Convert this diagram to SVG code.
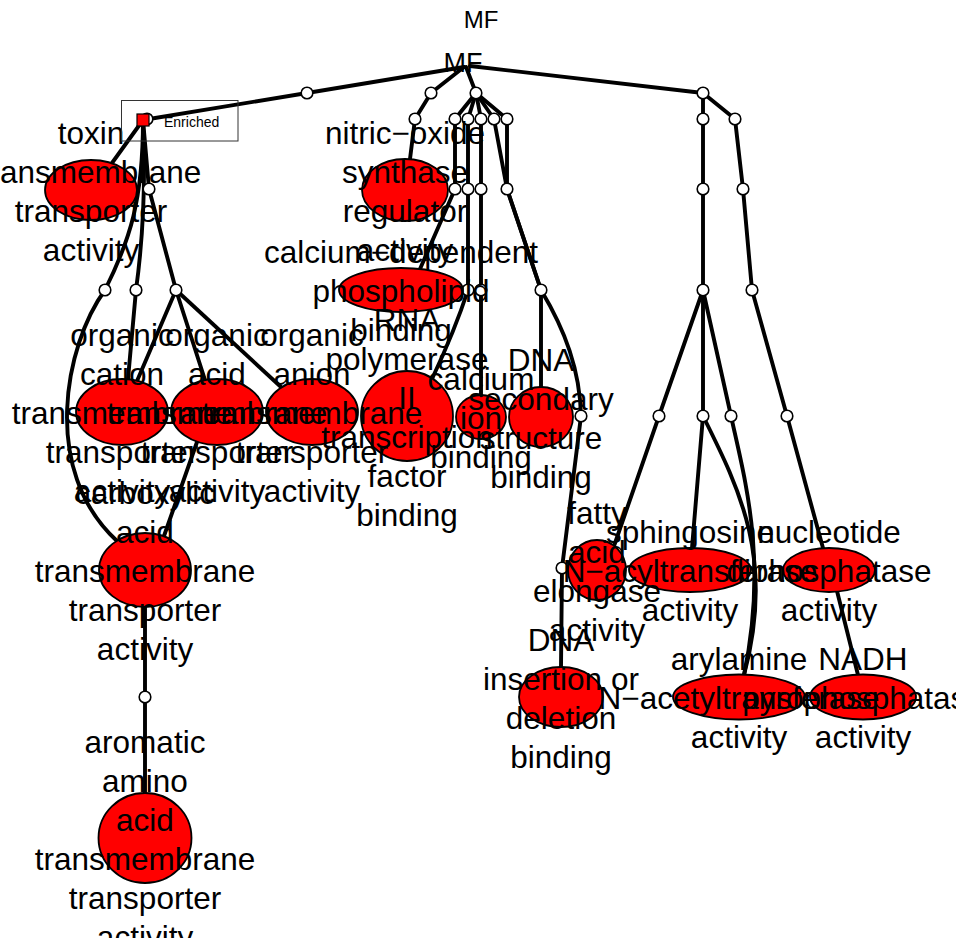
<svg xmlns="http://www.w3.org/2000/svg" width="956" height="938" viewBox="0 0 956 938">
<style>
.e{fill:none;stroke:#000;stroke-width:3.9;stroke-linecap:round;stroke-linejoin:round}
.n{fill:#ff0000;stroke:#000;stroke-width:1.8}
.d{fill:#fff;stroke:#000;stroke-width:1.6}
.t{font-family:"Liberation Sans",Arial,sans-serif;font-size:31.5px;fill:#000;text-anchor:middle}
</style>
<rect width="956" height="938" fill="#fff"/>
<text x="481" y="28" style="font-family:'Liberation Sans',Arial,sans-serif;font-size:24px;text-anchor:middle">MF</text>
<g id="connectors">
<path class="e" d="M464,67 L307,93 L143,120"/>
<path class="e" d="M464,67 L431,93 L415,119 L410,159"/>
<path class="e" d="M466,67 L476,93"/>
<path class="e" d="M470,66 L703,93"/>
<path class="e" d="M476,93 L455,119 L455,189 L420,269"/>
<path class="e" d="M476,93 L468,119 L468,189 L468,290 Q455,330 432,379"/>
<path class="e" d="M476,93 L481,119 L481,189 L481,290 L481,395"/>
<path class="e" d="M476,93 L494,119 L507,189 L541,290 L541,387"/>
<path class="e" d="M476,93 L507,119 L507,189 L541,290 C565,330 580,370 581,416 L562,568 L561,667"/>
<path class="e" d="M143,120 L112,163"/>
<path class="e" d="M143,120 L149,189 L176,290"/>
<path class="e" d="M143,120 Q147,210 136,290 L128,379"/>
<path class="e" d="M143,120 C143,200 130,240 105,290 C65,345 40,470 117,541"/>
<path class="e" d="M176,290 L137,381"/>
<path class="e" d="M176,290 L205,380"/>
<path class="e" d="M176,290 L281,387"/>
<path class="e" d="M197,442 L164,536"/>
<path class="e" d="M145,607 L145,697 L145,793"/>
<path class="e" d="M703,93 L703,119 L703,189 L703,290"/>
<path class="e" d="M703,93 L735,119 L743,189 L752,290 L787,416 L823,548"/>
<path class="e" d="M703,290 L659,416 L614,546"/>
<path class="e" d="M703,290 L703,416 L692,548"/>
<path class="e" d="M703,290 L731,416"/>
<path class="e" d="M703,416 C740,490 775,560 744,675"/>
<path class="e" d="M731,416 C745,480 768,560 744,675"/>
<path class="e" d="M837,591 L858,675"/>
</g>
<g id="dummies">
<circle class="d" cx="307" cy="93" r="5.8"/>
<circle class="d" cx="147" cy="119" r="5.8"/>
<circle class="d" cx="431" cy="93" r="5.8"/>
<circle class="d" cx="476" cy="93" r="5.8"/>
<circle class="d" cx="415" cy="119" r="5.8"/>
<circle class="d" cx="455" cy="119" r="5.8"/>
<circle class="d" cx="468" cy="119" r="5.8"/>
<circle class="d" cx="481" cy="119" r="5.8"/>
<circle class="d" cx="494" cy="119" r="5.8"/>
<circle class="d" cx="507" cy="119" r="5.8"/>
<circle class="d" cx="455" cy="189" r="5.8"/>
<circle class="d" cx="468" cy="189" r="5.8"/>
<circle class="d" cx="481" cy="189" r="5.8"/>
<circle class="d" cx="507" cy="189" r="5.8"/>
<circle class="d" cx="468" cy="290" r="5.8"/>
<circle class="d" cx="481" cy="290" r="5.8"/>
<circle class="d" cx="541" cy="290" r="5.8"/>
<circle class="d" cx="581" cy="416" r="5.8"/>
<circle class="d" cx="562" cy="568" r="5.8"/>
<circle class="d" cx="149" cy="189" r="5.8"/>
<circle class="d" cx="105" cy="290" r="5.8"/>
<circle class="d" cx="136" cy="290" r="5.8"/>
<circle class="d" cx="176" cy="290" r="5.8"/>
<circle class="d" cx="145" cy="697" r="5.8"/>
<circle class="d" cx="703" cy="93" r="5.8"/>
<circle class="d" cx="703" cy="119" r="5.8"/>
<circle class="d" cx="735" cy="119" r="5.8"/>
<circle class="d" cx="703" cy="189" r="5.8"/>
<circle class="d" cx="743" cy="189" r="5.8"/>
<circle class="d" cx="703" cy="290" r="5.8"/>
<circle class="d" cx="752" cy="290" r="5.8"/>
<circle class="d" cx="659" cy="416" r="5.8"/>
<circle class="d" cx="703" cy="416" r="5.8"/>
<circle class="d" cx="731" cy="416" r="5.8"/>
<circle class="d" cx="787" cy="416" r="5.8"/>
</g>
<g id="n_root"><text class="t" x="463" y="72" style="font-size:27px">MF</text></g>
<g id="n_toxin"><ellipse class="n" cx="91" cy="190" rx="46" ry="30"/></g>
<g id="n_nos"><ellipse class="n" cx="405" cy="190" rx="43" ry="31"/></g>
<g id="n_phospholipid"><ellipse class="n" cx="401" cy="290" rx="62" ry="22"/></g>
<g id="n_rnapol"><ellipse class="n" cx="407" cy="416" rx="46" ry="45"/></g>
<g id="n_calcium"><ellipse class="n" cx="481" cy="417" rx="25" ry="22"/></g>
<g id="n_dnasec"><ellipse class="n" cx="541" cy="417" rx="32" ry="30"/></g>
<g id="n_cation"><ellipse class="n" cx="122" cy="412" rx="46" ry="33"/></g>
<g id="n_acid"><ellipse class="n" cx="217" cy="412" rx="46" ry="33"/></g>
<g id="n_anion"><ellipse class="n" cx="312" cy="412" rx="46" ry="33"/></g>
<g id="n_carboxylic"><ellipse class="n" cx="145" cy="570" rx="46" ry="37"/></g>
<g id="n_aromatic"><ellipse class="n" cx="145" cy="838" rx="46.5" ry="45"/></g>
<g id="n_fatty"><ellipse class="n" cx="597" cy="570" rx="29" ry="30"/></g>
<g id="n_sphingosine"><ellipse class="n" cx="690" cy="570" rx="61" ry="22"/></g>
<g id="n_nucleotide"><ellipse class="n" cx="829" cy="570" rx="46" ry="22"/></g>
<g id="n_dnains"><ellipse class="n" cx="561" cy="697" rx="42" ry="30"/></g>
<g id="n_arylamine"><ellipse class="n" cx="739" cy="697" rx="66" ry="22.5"/></g>
<g id="n_nadh"><ellipse class="n" cx="863" cy="697" rx="53" ry="22.5"/></g>
<g id="labels">
<text class="t"><tspan x="91" y="143.5">toxin</tspan><tspan x="91" y="182.5">transmembrane</tspan><tspan x="91" y="221.5">transporter</tspan><tspan x="91" y="260.5">activity</tspan></text>
<text class="t"><tspan x="405" y="143.5">nitric−oxide</tspan><tspan x="405" y="182.5">synthase</tspan><tspan x="405" y="221.5">regulator</tspan><tspan x="405" y="260.5">activity</tspan></text>
<text class="t"><tspan x="401" y="263">calcium−dependent</tspan><tspan x="401" y="302">phospholipid</tspan><tspan x="401" y="341">binding</tspan></text>
<text class="t"><tspan x="407" y="330.5">RNA</tspan><tspan x="407" y="369.5">polymerase</tspan><tspan x="407" y="408.5">II</tspan><tspan x="407" y="447.5">transcription</tspan><tspan x="407" y="486.5">factor</tspan><tspan x="407" y="525.5">binding</tspan></text>
<text class="t"><tspan x="481" y="390">calcium</tspan><tspan x="481" y="429">ion</tspan><tspan x="481" y="468">binding</tspan></text>
<text class="t"><tspan x="541" y="370.5">DNA</tspan><tspan x="541" y="409.5">secondary</tspan><tspan x="541" y="448.5">structure</tspan><tspan x="541" y="487.5">binding</tspan></text>
<text class="t"><tspan x="122" y="346">organic</tspan><tspan x="122" y="385">cation</tspan><tspan x="122" y="424">transmembrane</tspan><tspan x="122" y="463">transporter</tspan><tspan x="122" y="502">activity</tspan></text>
<text class="t"><tspan x="217" y="346">organic</tspan><tspan x="217" y="385">acid</tspan><tspan x="217" y="424">transmembrane</tspan><tspan x="217" y="463">transporter</tspan><tspan x="217" y="502">activity</tspan></text>
<text class="t"><tspan x="312" y="346">organic</tspan><tspan x="312" y="385">anion</tspan><tspan x="312" y="424">transmembrane</tspan><tspan x="312" y="463">transporter</tspan><tspan x="312" y="502">activity</tspan></text>
<text class="t"><tspan x="145" y="504">carboxylic</tspan><tspan x="145" y="543">acid</tspan><tspan x="145" y="582">transmembrane</tspan><tspan x="145" y="621">transporter</tspan><tspan x="145" y="660">activity</tspan></text>
<text class="t"><tspan x="145" y="752.5">aromatic</tspan><tspan x="145" y="791.5">amino</tspan><tspan x="145" y="830.5">acid</tspan><tspan x="145" y="869.5">transmembrane</tspan><tspan x="145" y="908.5">transporter</tspan><tspan x="145" y="947.5">activity</tspan></text>
<text class="t"><tspan x="597" y="523.5">fatty</tspan><tspan x="597" y="562.5">acid</tspan><tspan x="597" y="601.5">elongase</tspan><tspan x="597" y="640.5">activity</tspan></text>
<text class="t"><tspan x="690" y="543">sphingosine</tspan><tspan x="690" y="582">N−acyltransferase</tspan><tspan x="690" y="621">activity</tspan></text>
<text class="t"><tspan x="829" y="543">nucleotide</tspan><tspan x="829" y="582">diphosphatase</tspan><tspan x="829" y="621">activity</tspan></text>
<text class="t"><tspan x="561" y="650.5">DNA</tspan><tspan x="561" y="689.5">insertion or</tspan><tspan x="561" y="728.5">deletion</tspan><tspan x="561" y="767.5">binding</tspan></text>
<text class="t"><tspan x="739" y="670">arylamine</tspan><tspan x="739" y="709">N−acetyltransferase</tspan><tspan x="739" y="748">activity</tspan></text>
<text class="t"><tspan x="863" y="670">NADH</tspan><tspan x="863" y="709">pyrophosphatase</tspan><tspan x="863" y="748">activity</tspan></text>
</g>
<g id="legend">
<rect x="121.5" y="100.5" width="116.5" height="40.5" fill="none" stroke="#333" stroke-width="1"/>
<rect x="137" y="114" width="12" height="12" fill="#ff0000" stroke="#000" stroke-width="1.2"/>
<text x="164" y="127" style="font-family:'Liberation Sans',Arial,sans-serif;font-size:14px">Enriched</text>
</g>
</svg>
